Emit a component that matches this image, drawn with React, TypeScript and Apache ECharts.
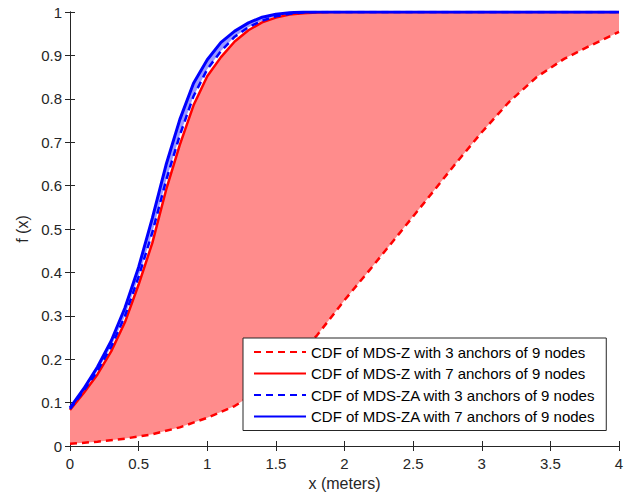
import React, { useEffect, useRef } from "react";
import * as echarts from "echarts";

const xSteep = [0, 0.1, 0.2, 0.3, 0.4, 0.5, 0.6, 0.7, 0.8, 0.9, 1.0, 1.1, 1.2, 1.3, 1.4, 1.5, 1.6, 1.7, 1.8, 1.9, 2.0, 4.0];
const redSolid = [0.083, 0.122, 0.165, 0.218, 0.285, 0.372, 0.468, 0.59, 0.694, 0.785, 0.852, 0.896, 0.932, 0.958, 0.976, 0.987, 0.994, 0.997, 0.999, 1, 1, 1];
const blueSolid = [0.088, 0.132, 0.182, 0.242, 0.318, 0.412, 0.525, 0.648, 0.752, 0.836, 0.89, 0.93, 0.956, 0.975, 0.988, 0.995, 0.998, 1, 1, 1, 1, 1];
const blueDashed = [0.085, 0.127, 0.173, 0.229, 0.299, 0.39, 0.492, 0.612, 0.716, 0.806, 0.868, 0.91, 0.943, 0.965, 0.98, 0.99, 0.996, 0.999, 1, 1, 1, 1];

const xSlow = [0, 0.2, 0.4, 0.6, 0.8, 1.0, 1.2, 1.4, 1.6, 1.8, 2.0, 2.2, 2.4, 2.6, 2.8, 3.0, 3.2, 3.4, 3.6, 3.8, 4.0];
const redDashed = [0.005, 0.01, 0.017, 0.027, 0.043, 0.065, 0.092, 0.133, 0.19, 0.255, 0.336, 0.412, 0.49, 0.568, 0.647, 0.723, 0.793, 0.85, 0.892, 0.924, 0.954];

const seriesNames = [
  "CDF of MDS-Z with 3 anchors of 9 nodes",
  "CDF of MDS-Z with 7 anchors of 9 nodes",
  "CDF of MDS-ZA with 3 anchors of 9 nodes",
  "CDF of MDS-ZA with 7 anchors of 9 nodes",
];

const xTicks = [0, 0.5, 1, 1.5, 2, 2.5, 3, 3.5, 4];

const FONT = "'Liberation Sans', Arial, Helvetica, sans-serif";
const AXIS = "#262626";

const zip = (xs: number[], ys: number[]) => xs.map((x, i) => [x, ys[i]]);

function bandSeries(upper: number[][], lower: number[][], fill: string) {
  return {
    type: "custom",
    silent: true,
    data: [[0, 0]],
    encode: { x: 0, y: 1 },
    renderItem: (_params: any, api: any) => {
      const pts: number[][] = [];
      upper.forEach((p) => pts.push(api.coord(p)));
      for (let i = lower.length - 1; i >= 0; i--) pts.push(api.coord(lower[i]));
      return {
        type: "polygon",
        shape: { points: pts },
        style: { fill, stroke: "none" },
      };
    },
    z: 1,
  };
}

export default function App() {
  const ref = useRef<HTMLDivElement>(null);
  useEffect(() => {
    if (!ref.current) return;
    const chart = echarts.init(ref.current, undefined, { renderer: "svg" });
    const rs = zip(xSteep, redSolid);
    const bs = zip(xSteep, blueSolid);
    const bd = zip(xSteep, blueDashed);
    const rd = zip(xSlow, redDashed);

    const axisLine = { show: true, lineStyle: { color: AXIS, width: 1 } };
    const axisTick = { show: true, inside: true, length: 5, lineStyle: { color: AXIS } };

    chart.setOption({
      animation: false,
      backgroundColor: "#fff",
      grid: { left: 70, top: 12, right: 15, bottom: 56, containLabel: false },
      xAxis: [
        {
          type: "value",
          min: 0,
          max: 4,
          interval: 0.5,
          name: "x (meters)",
          nameLocation: "middle",
          nameGap: 28,
          nameTextStyle: { fontSize: 16, color: AXIS, fontFamily: FONT },
          axisLine,
          axisTick,
          splitLine: { show: false },
          axisLabel: {
            margin: 10,
            fontSize: 15,
            color: AXIS,
            fontFamily: FONT,
            formatter: (v: number) => (xTicks.includes(v) ? String(v) : ""),
          },
        },
        {
          type: "value",
          position: "top",
          min: 0,
          max: 4,
          interval: 0.5,
          axisLine,
          axisTick,
          axisLabel: { show: false },
          splitLine: { show: false },
        },
      ],
      yAxis: [
        {
          type: "value",
          min: 0,
          max: 1,
          interval: 0.1,
          name: "f (x)",
          nameLocation: "middle",
          nameGap: 33,
          nameTextStyle: { fontSize: 16, color: AXIS, fontFamily: FONT },
          axisLine,
          axisTick,
          splitLine: { show: false },
          axisLabel: {
            margin: 8,
            fontSize: 15,
            color: AXIS,
            fontFamily: FONT,
            formatter: (v: number) => String(Math.round(v * 10) / 10),
          },
        },
        {
          type: "value",
          position: "right",
          min: 0,
          max: 1,
          interval: 0.1,
          axisLine,
          axisTick,
          axisLabel: { show: false },
          splitLine: { show: false },
        },
      ],
      legend: {
        data: seriesNames,
        orient: "vertical",
        left: 243,
        top: 338,
        backgroundColor: "#fff",
        borderColor: AXIS,
        borderWidth: 1,
        borderRadius: 0,
        padding: [6, 11, 6, 10],
        itemWidth: 52,
        itemHeight: 14,
        itemGap: 5.5,
        itemStyle: { opacity: 0 },
        textStyle: { fontSize: 15, lineHeight: 16, color: "#000", fontFamily: FONT },
        selectedMode: false,
      },
      series: [
        bandSeries(rs, rd, "#ff8c8c"),
        bandSeries(bs, bd, "#9a9aff"),
        {
          name: seriesNames[0],
          type: "line",
          data: rd,
          showSymbol: false,
          symbol: "none",
          lineStyle: { color: "#ff0000", width: 2.5, type: [7, 5] },
          itemStyle: { color: "#ff0000" },
          z: 3,
        },
        {
          name: seriesNames[1],
          type: "line",
          data: rs,
          showSymbol: false,
          symbol: "none",
          lineStyle: { color: "#ff0000", width: 2.5 },
          itemStyle: { color: "#ff0000" },
          z: 3,
        },
        {
          name: seriesNames[2],
          type: "line",
          data: bd,
          showSymbol: false,
          symbol: "none",
          lineStyle: { color: "#0000ff", width: 2.5, type: [7, 5] },
          itemStyle: { color: "#0000ff" },
          z: 4,
        },
        {
          name: seriesNames[3],
          type: "line",
          data: bs,
          showSymbol: false,
          symbol: "none",
          lineStyle: { color: "#0000ff", width: 3 },
          itemStyle: { color: "#0000ff" },
          z: 4,
        },
      ],
    });
    return () => chart.dispose();
  }, []);
  return <div ref={ref} style={{ width: 634, height: 502, margin: -8 }} />;
}
